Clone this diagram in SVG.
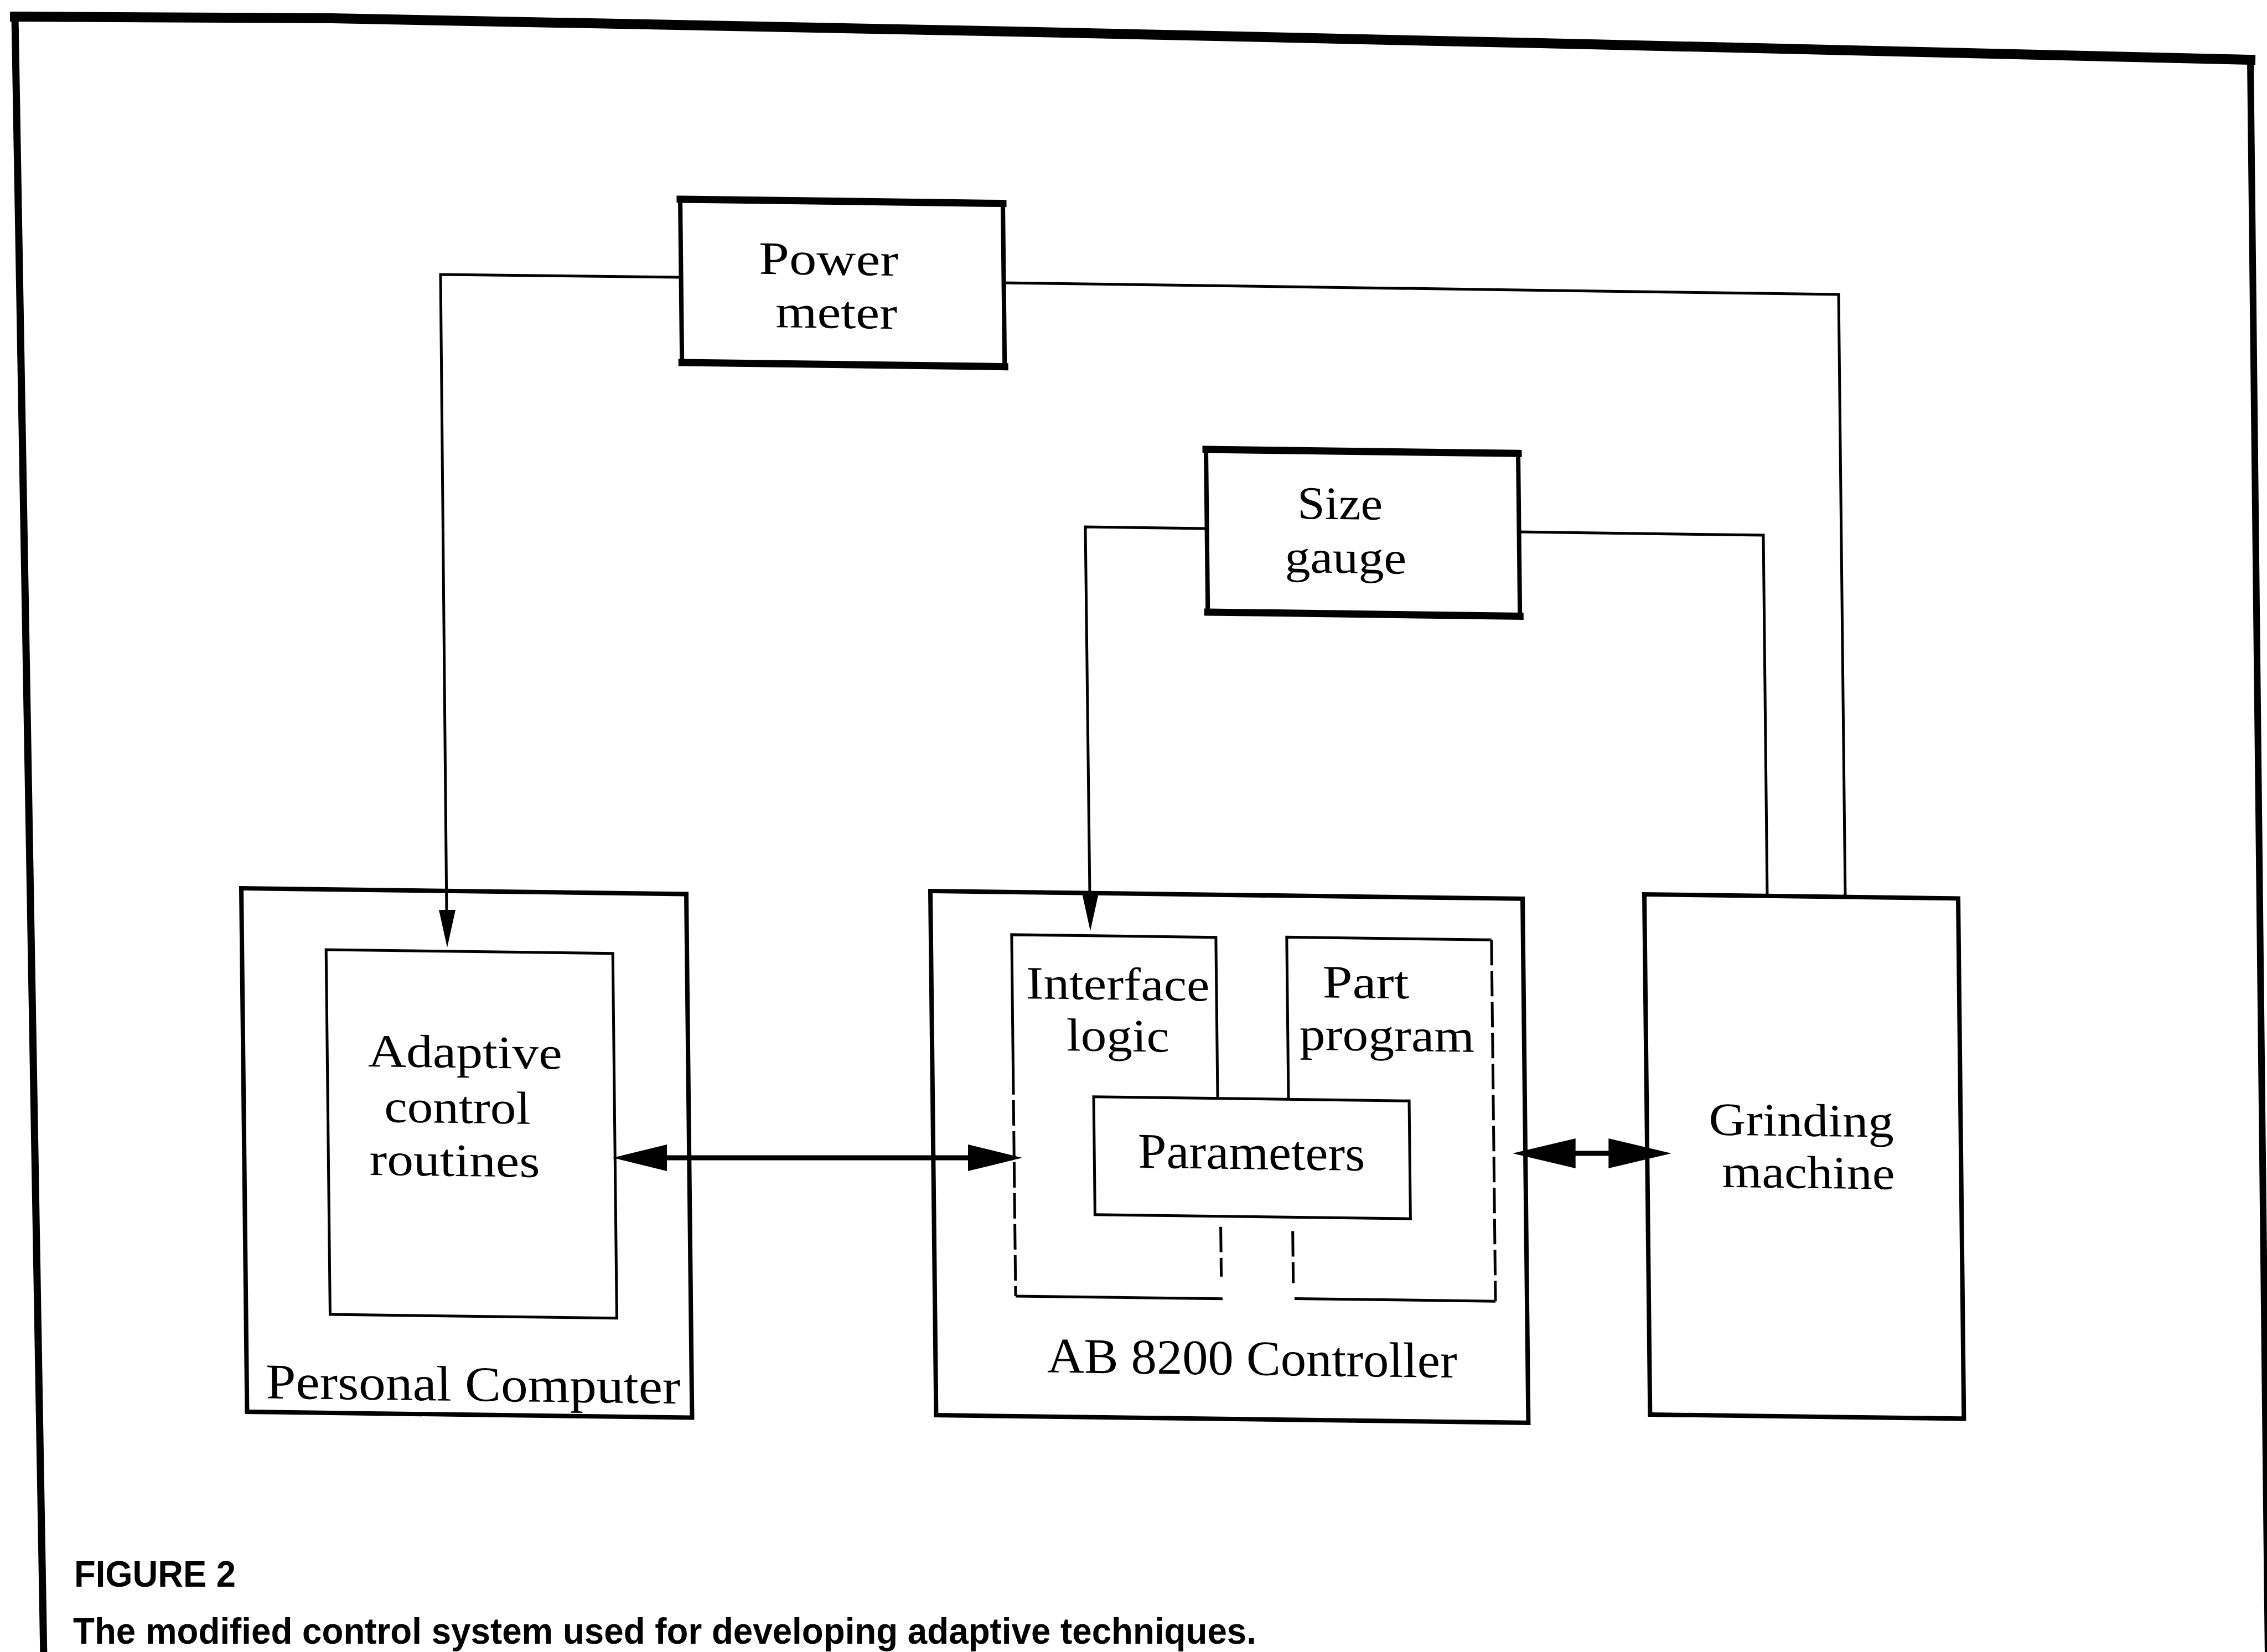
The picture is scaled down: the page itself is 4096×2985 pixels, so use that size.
<svg xmlns="http://www.w3.org/2000/svg" width="4096" height="2985" viewBox="0 0 4096 2985">
<style>
  .edge{fill:none;stroke:#000;stroke-linecap:square}
  .box{fill:none;stroke:#000;stroke-width:8}
  .sub{fill:none;stroke:#000;stroke-width:5}
  .brk{stroke-dasharray:46 10}
  .lbl{font-family:"Liberation Serif","Times New Roman",serif;font-size:84px;text-anchor:middle;fill:#000}
  .one{font-size:90px}
  .wire{fill:none;stroke:#000;stroke-width:5}
  .shaft{fill:none;stroke:#000;stroke-width:9}
  .cap{font-family:"Liberation Sans",Arial,sans-serif;font-weight:bold;font-size:66px;fill:#000}
</style>
<defs>
  <!-- slim arrowhead pointing down, tip at origin -->
  <path id="tip-slim" d="M0,0 L-15,-68 L15,-68 Z" fill="#000"/>
  <!-- bold arrowhead pointing right, tip at origin -->
  <path id="tip-bold" d="M0,0 L-98,-24 L-98,24 Z" fill="#000"/>
</defs>

<rect width="4096" height="2985" fill="#fff"/>

<!-- page frame -->
<g id="frame">
  <polyline class="edge" stroke-width="18" points="27,30 600,33 1829,57 2873,80 4066,108"/>
  <line class="edge" stroke-width="13" x1="27" y1="30" x2="79" y2="2995"/>
  <line class="edge" stroke-width="12" x1="4066" y1="108" x2="4098" y2="2995"/>
</g>

<!-- connectors -->
<g id="connectors">
  <path class="wire" d="M1229,501 L796,496 L807,1650"/>
  <use href="#tip-slim" transform="translate(808 1712)"/>
  <path class="wire" d="M1812,511 L3322,532 L3334,1621"/>
  <path class="wire" d="M2179,955 L1961,952 L1969,1615"/>
  <use href="#tip-slim" transform="translate(1970 1682)"/>
  <path class="wire" d="M2743,961 L3186,967 L3193,1619"/>
  <path class="shaft" d="M1150,2092 H1800"/>
  <use href="#tip-bold" transform="translate(1107 2092) rotate(180)"/>
  <use href="#tip-bold" transform="translate(1847 2092)"/>
  <path class="shaft" d="M2800,2084 H2950"/>
  <use href="#tip-bold" transform="translate(2733 2084) rotate(180) scale(1.16 1.12)"/>
  <use href="#tip-bold" transform="translate(3020 2084) scale(1.16 1.12)"/>
</g>

<g id="power-meter" transform="matrix(1 0.013 0.011 1 1229 360)">
  <rect class="box" x="0" y="0" width="583" height="295"/>
  <path class="edge" stroke-width="13" d="M0,0 H583 M0,295 H583"/>
  <text class="lbl" x="267" y="133" textLength="252" lengthAdjust="spacingAndGlyphs">Power</text>
  <text class="lbl" x="280" y="229" textLength="220" lengthAdjust="spacingAndGlyphs">meter</text>
</g>

<g id="size-gauge" transform="matrix(1 0.013 0.011 1 2179 812)">
  <rect class="box" x="0" y="0" width="564" height="294"/>
  <path class="edge" stroke-width="13" d="M0,0 H564 M0,294 H564"/>
  <text class="lbl" x="241" y="123" textLength="154" lengthAdjust="spacingAndGlyphs">Size</text>
  <text class="lbl" x="250" y="220" textLength="220" lengthAdjust="spacingAndGlyphs">gauge</text>
</g>

<g id="personal-computer" transform="matrix(1 0.013 0.011 1 436 1605)">
  <rect class="box" x="0" y="0" width="804" height="946"/>
  <g id="adaptive-control-routines">
    <rect class="sub" stroke-width="6" x="152" y="109" width="518" height="659"/>
    <text class="lbl" x="401" y="319" textLength="351" lengthAdjust="spacingAndGlyphs">Adaptive</text>
    <text class="lbl" x="386" y="419" textLength="264" lengthAdjust="spacingAndGlyphs">control</text>
    <text class="lbl" x="380" y="515" textLength="308" lengthAdjust="spacingAndGlyphs">routines</text>
  </g>
  <text class="lbl one" x="409" y="921" textLength="749" lengthAdjust="spacingAndGlyphs">Personal Computer</text>
</g>

<g id="ab-8200-controller" transform="matrix(1 0.013 0.011 1 1681 1610)">
  <rect class="box" x="0" y="0" width="1070" height="947"/>
  <g id="interface-logic">
    <path class="sub" stroke-width="4" d="M146,320 V77 H515 V368 M146,730 H520"/>
    <path class="sub brk" stroke-width="4" d="M146,320 V730 M518,600 V690"/>
    <text class="lbl" x="337" y="192" textLength="331" lengthAdjust="spacingAndGlyphs">Interface</text>
    <text class="lbl" x="336" y="285" textLength="186" lengthAdjust="spacingAndGlyphs">logic</text>
  </g>
  <g id="part-program">
    <path class="sub" stroke-width="4" d="M643,368 V75 H1013 M650,728 H1013"/>
    <path class="sub brk" stroke-width="4" d="M1013,75 V728 M648,606 V700"/>
    <text class="lbl" x="785" y="183" textLength="156" lengthAdjust="spacingAndGlyphs">Part</text>
    <text class="lbl" x="822" y="278" textLength="316" lengthAdjust="spacingAndGlyphs">program</text>
  </g>
  <g id="parameters">
    <rect class="sub" stroke-width="6" x="291" y="368" width="570" height="213"/>
    <text class="lbl one" x="575" y="495" textLength="410" lengthAdjust="spacingAndGlyphs">Parameters</text>
  </g>
  <text class="lbl one" x="572" y="867" textLength="741" lengthAdjust="spacingAndGlyphs">AB 8200 Controller</text>
</g>

<g id="grinding-machine" transform="matrix(1 0.013 0.011 1 2971 1616)">
  <rect class="box" stroke-width="7" x="0" y="0" width="567" height="940"/>
  <text class="lbl" x="279" y="433" textLength="334" lengthAdjust="spacingAndGlyphs">Grinding</text>
  <text class="lbl" x="291" y="527" textLength="312" lengthAdjust="spacingAndGlyphs">machine</text>
</g>

<!-- caption -->
<g id="caption">
  <text class="cap" x="134" y="2867" textLength="292" lengthAdjust="spacingAndGlyphs">FIGURE 2</text>
  <text class="cap" x="132" y="2970" textLength="2138" lengthAdjust="spacingAndGlyphs">The modified control system used for developing adaptive techniques.</text>
</g>
</svg>
